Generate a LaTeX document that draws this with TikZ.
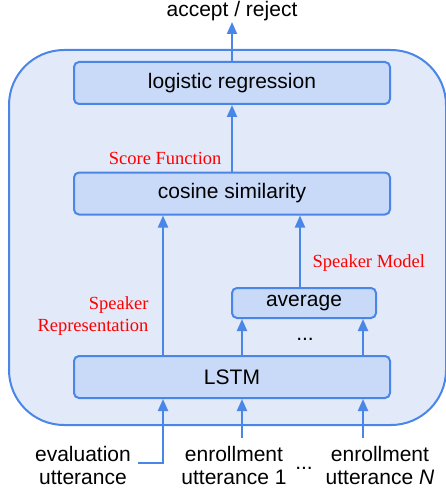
\documentclass[tikz,border=0pt]{standalone}
\usepackage{fontspec}
\setmainfont{Liberation Sans}
\newfontfamily\notefont{Liberation Serif}
\usetikzlibrary{arrows.meta,positioning}
\definecolor{lineblue}{RGB}{74,134,232}
\definecolor{boxblue}{RGB}{201,218,248}
\definecolor{backblue}{RGB}{226,233,248}
\tikzset{
	block/.style={draw=lineblue,fill=boxblue,line width=2pt,rounded corners=5pt,inner sep=0pt,minimum height=42pt,font=\fontsize{21}{23}\selectfont},
	flow/.style={draw=lineblue,line width=2pt,-{Triangle[length=12pt,width=10pt]}},
	words/.style={font=\fontsize{21}{23}\selectfont,align=center},
	note/.style={text=red,font=\notefont\fontsize{18.5}{21.5}\selectfont,align=right}
}

\begin{document}
\begin{tikzpicture}[x=1pt,y=-1pt]
	\useasboundingbox (0,0) rectangle (445,492);
	\draw[draw=lineblue,fill=backblue,line width=2pt,rounded corners=55pt] (9,50) rectangle (446,425);

	\node[block,minimum width=316pt] at (232,83) (logistic) {logistic regression};
	\node[block,minimum width=316pt] at (232,193.5) (cosine) {cosine similarity};
	\node[block,minimum width=144pt,minimum height=30pt] at (304,303) (average) {average};
	\node[block,minimum width=316pt] at (232,377) (lstm) {LSTM};

	\node[words,inner sep=1pt] at (232,11) (decision) {accept / reject};
	\node[words] at (83,465) (evalin) {evaluation\\utterance};
	\node[words] at (234,465) (enrolA) {enrollment\\utterance 1};
	\node[words] at (380,465) (enrolN) {enrollment\\utterance \textit{N}};
	\node[words,anchor=base] at (305,340) (moreA) {...};
	\node[words,anchor=base] at (304,469) (moreB) {...};

	\node[note,anchor=east] at (225,158) (score) {Score Function};
	\node[note,anchor=west] at (309,263) (model) {Speaker Model};
	\node[note,anchor=east] at (152,316) (rep) {Speaker\\Representation};

	\coordinate (col1) at (163,463);
	\coordinate (col2) at (242,438);
	\coordinate (col3) at (363,438);
	\coordinate (col4) at (300,0);
	\coordinate (evtail) at (138,463);

	\draw[flow] (logistic) -- (decision);
	\draw[flow] (cosine) -- (logistic);
	\draw[flow] (average.north -| col4) -- (cosine.south -| col4);
	\draw[flow] (lstm.north -| col1) -- (cosine.south -| col1);
	\draw[flow] (lstm.north -| col2) -- (average.south -| col2);
	\draw[flow] (lstm.north -| col3) -- (average.south -| col3);

	\draw[flow] (evtail) -- (col1) -- (lstm.south -| col1);
	\draw[flow] (col2) -- (lstm.south -| col2);
	\draw[flow] (col3) -- (lstm.south -| col3);
\end{tikzpicture}
\end{document}
